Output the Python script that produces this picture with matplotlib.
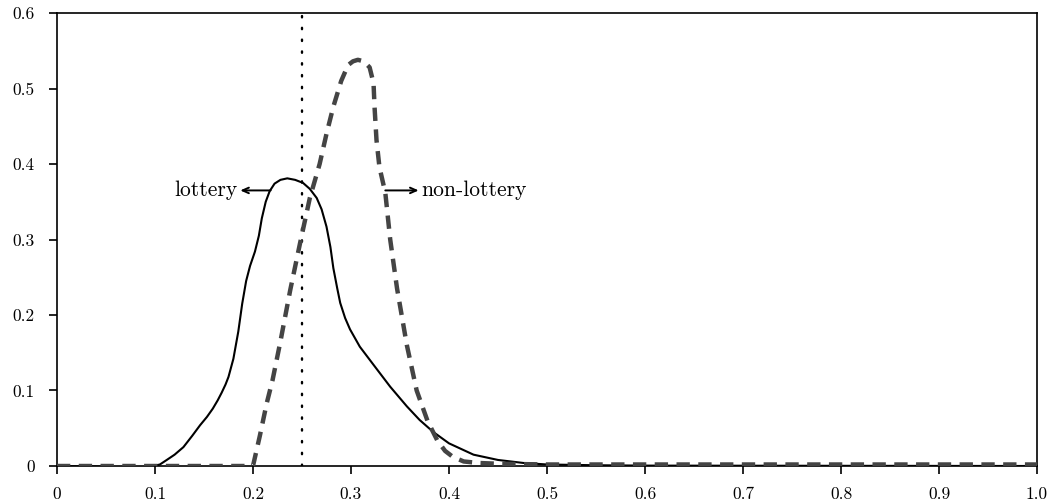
import numpy as np
import matplotlib
matplotlib.use("Agg")
import matplotlib.pyplot as plt

# density values
lottery_x = [0, 0.04, 0.06, 0.08, 0.095, 0.105, 0.112, 0.12, 0.129, 0.138, 0.146,
             0.153, 0.159, 0.164, 0.168, 0.172, 0.175, 0.18, 0.185, 0.189, 0.193,
             0.197, 0.202, 0.206, 0.209, 0.213, 0.217, 0.222, 0.228, 0.235, 0.243,
             0.251, 0.258, 0.265, 0.27, 0.275, 0.279, 0.282, 0.286, 0.289, 0.294,
             0.299, 0.309, 0.323, 0.34, 0.357, 0.37, 0.384, 0.4, 0.425, 0.45,
             0.476, 0.5, 0.55, 0.6, 1.0]
lottery_y = [0, -0.0005, -0.0015, -0.002, -0.001, 0.002, 0.008, 0.015, 0.025, 0.04, 0.054,
             0.065, 0.076, 0.087, 0.097, 0.108, 0.118, 0.142, 0.178, 0.215, 0.245,
             0.265, 0.284, 0.305, 0.328, 0.35, 0.364, 0.374, 0.379, 0.381, 0.379,
             0.375, 0.367, 0.355, 0.34, 0.317, 0.29, 0.262, 0.235, 0.216, 0.196,
             0.181, 0.158, 0.134, 0.105, 0.079, 0.061, 0.045, 0.03, 0.015, 0.008,
             0.004, 0.002, 0.001, 0.0005, 0]

nonlottery_x = [0, 0.2, 0.207, 0.214, 0.22, 0.228, 0.238, 0.248, 0.258, 0.268, 0.275,
                0.282, 0.29, 0.297, 0.302, 0.307, 0.313, 0.319, 0.323, 0.324, 0.326,
                0.329, 0.335, 0.34, 0.347, 0.357, 0.367, 0.378, 0.388, 0.396, 0.404,
                0.415, 0.43, 0.45, 0.5, 0.6, 1.0]
nonlottery_y = [0, 0, 0.04, 0.083, 0.114, 0.165, 0.233, 0.295, 0.355, 0.40, 0.44,
                0.476, 0.51, 0.531, 0.536, 0.538, 0.536, 0.528, 0.507, 0.476, 0.432,
                0.396, 0.362, 0.30, 0.235, 0.16, 0.10, 0.06, 0.034, 0.02, 0.012,
                0.006, 0.004, 0.003, 0.002, 0.002, 0.002]

cutoff = 0.25
xticks = [0, 0.1, 0.2, 0.3, 0.4, 0.5, 0.6, 0.7, 0.8, 0.9, 1.0]
xtick_labels = ['0', '0.1', '0.2', '0.3', '0.4', '0.5', '0.6', '0.7', '0.8', '0.9', '1.0']
yticks = [0, 0.1, 0.2, 0.3, 0.4, 0.5, 0.6]
ytick_labels = ['0', '0.1', '0.2', '0.3', '0.4', '0.5', '0.6']

plt.rcParams['font.family'] = 'serif'
plt.rcParams['font.serif'] = ['cmr10', 'DejaVu Serif']
plt.rcParams['axes.formatter.use_mathtext'] = True
plt.rcParams['mathtext.fontset'] = 'cm'

fig = plt.figure(figsize=(10.55, 5.04), dpi=100)
ax = fig.add_axes([0.054, 0.0754, 0.929, 0.8988])

ax.plot(lottery_x, lottery_y, color='black', lw=1.5, zorder=3)
ax.plot(nonlottery_x, nonlottery_y, color='#444444', lw=3.2,
        linestyle=(0, (3.0, 1.9)), zorder=4)
ax.axvline(cutoff, color='black', lw=1.7, linestyle=(0, (0.6, 4.4)),
           dash_capstyle='round', zorder=2)

# labels with little arrows
arrow = dict(arrowstyle='->,head_length=0.45,head_width=0.2', lw=1.4,
             color='black', shrinkA=0, shrinkB=0)
ax.annotate('', xy=(0.187, 0.365), xytext=(0.218, 0.365), arrowprops=arrow)
ax.text(0.184, 0.365, 'lottery', ha='right', va='center', fontsize=15.5)
ax.annotate('', xy=(0.369, 0.365), xytext=(0.335, 0.365), arrowprops=arrow)
ax.text(0.372, 0.365, 'non-lottery', ha='left', va='center', fontsize=15.5)

ax.set_xlim(0, 1.0)
ax.set_ylim(0, 0.6)
ax.set_xticks(xticks)
ax.set_xticklabels(xtick_labels)
ax.set_yticks(yticks)
ax.set_yticklabels(ytick_labels)
ax.tick_params(direction='out', length=6, width=1.2, labelsize=12.5)
ax.tick_params(axis='x', pad=9)
ax.tick_params(axis='y', pad=10)
for s in ax.spines.values():
    s.set_linewidth(1.2)

fig.savefig('out.png', dpi=100)
